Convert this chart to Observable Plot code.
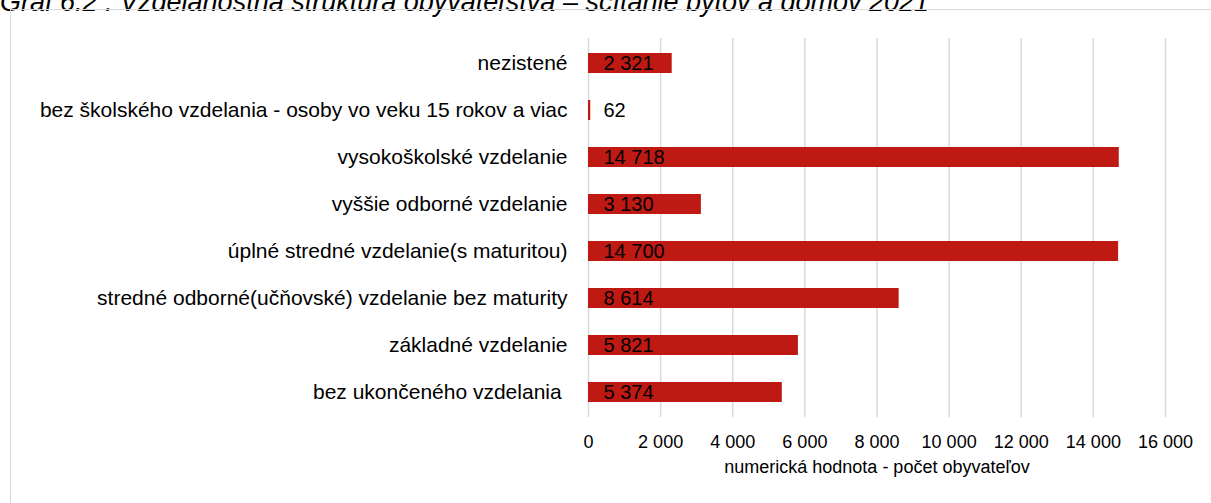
<!DOCTYPE html>
<html>
<head>
<meta charset="utf-8">
<script src="https://cdn.jsdelivr.net/npm/d3@7"></script>
<script src="https://cdn.jsdelivr.net/npm/@observablehq/plot@0.6"></script>
<style>
  body { margin: 0; background: #fff; font-family: "Liberation Sans", Arial, sans-serif; }
  #wrap { position: relative; width: 1211px; height: 503px; overflow: hidden; }
  #title { position: absolute; left: 0; top: -11px; line-height: 27px; font-style: italic; font-size: 27px; color: #000; white-space: nowrap; }
  #frame { position: absolute; left: 10px; top: 9px; width: 1215px; height: 510px; border: 1px solid #d9d9d9; box-sizing: border-box; }
  #chart { position: absolute; left: 0; top: 0; }
</style>
</head>
<body>
<div id="wrap">
  <div id="title">Graf 6.2 : Vzdelanostná štruktúra obyvateľstva – sčítanie bytov a domov 2021</div>
  <div id="frame"></div>
  <div id="chart"></div>
</div>
<script>
const categories = [
  "nezistené",
  "bez školského vzdelania - osoby vo veku 15 rokov a viac",
  "vysokoškolské vzdelanie",
  "vyššie odborné vzdelanie",
  "úplné stredné vzdelanie(s maturitou)",
  "stredné odborné(učňovské) vzdelanie bez maturity",
  "základné vzdelanie",
  "bez ukončeného vzdelania "
];
const values = [2321, 62, 14718, 3130, 14700, 8614, 5821, 5374];
const xTicks = [0, 2000, 4000, 6000, 8000, 10000, 12000, 14000, 16000];
const xTitle = "numerická hodnota - počet obyvateľov";

const data = categories.map((c, i) => ({category: c, value: values[i]}));
const fmt = v => d3.format(",")(v).replace(/,/g, " ");

const chart = Plot.plot({
  width: 1211,
  height: 503,
  marginTop: 38,
  marginBottom: 86,
  marginLeft: 588,
  marginRight: 46,
  style: {background: "transparent", fontFamily: "Liberation Sans, Arial, sans-serif", color: "#000", overflow: "visible"},
  x: {domain: [0, 16000]},
  y: {domain: categories, paddingInner: 0.58, paddingOuter: 0.29},
  marks: [
    Plot.gridX(xTicks, {stroke: "#d9d9d9", strokeOpacity: 1, strokeWidth: 1.5}),
    Plot.barX(data, {y: "category", x: "value", fill: "#be1a13"}),
    Plot.text(data, {y: "category", x: 0, text: d => fmt(d.value), textAnchor: "start", dx: 15, fontSize: 20, fill: "#000"}),
    Plot.axisY({tickSize: 0, tickPadding: 21, fontSize: 21, label: null}),
    Plot.axisX(xTicks, {tickSize: 0, tickPadding: 18, fontSize: 18, tickFormat: fmt, label: xTitle, labelAnchor: "center", labelArrow: "none", labelOffset: 55})
  ]
});
document.getElementById("chart").appendChild(chart);
</script>
</body>
</html>
